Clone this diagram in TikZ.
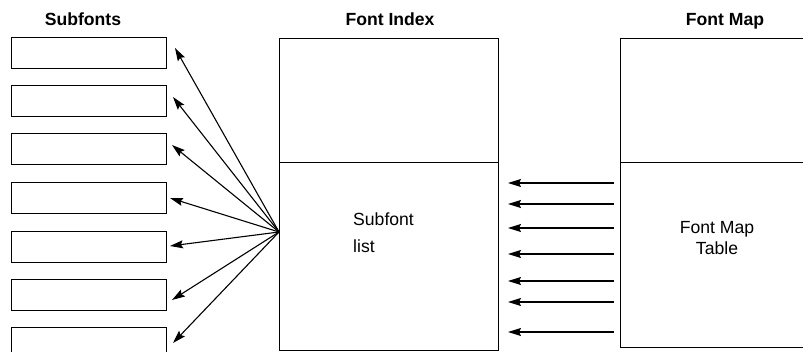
\documentclass[tikz,border=0pt]{standalone}
\usepackage{fontspec}
\setmainfont{Liberation Sans}
\usetikzlibrary{arrows.meta}
\begin{document}
\begin{tikzpicture}[x=1pt,y=-1pt,
  box/.style={draw, line width=1.2pt, rectangle, inner sep=0pt, anchor=north west},
  subbox/.style={box, minimum width=155pt, minimum height=31pt},
  title/.style={font=\fontsize{17.6}{20}\selectfont\bfseries, anchor=base, inner sep=0pt},
  ptr/.style={line width=1.1pt, -{Stealth[length=13pt,width=8pt,inset=2pt]}}
]
\useasboundingbox (0,0) rectangle (803,352);
\clip (0,0) rectangle (803,352);

% column titles
\node[title] (tsub)  at (83,26)  {Subfonts};
\node[title] (tidx)  at (390,26) {Font Index};
\node[title] (tmap)  at (725,26) {Font Map};

% subfont boxes
\foreach \i/\y in {1/37, 2/85, 3/133, 4/182, 5/231, 6/279, 7/327}
  \node[subbox] (sub\i) at (11,\y) {};

% font index: header part and subfont list part
\node[box, minimum width=219pt, minimum height=124pt] (idxtop) at (279,38) {};
\node[box, minimum width=219pt, minimum height=188pt] (idxbot) at (279,162) {};
\node[font=\fontsize{17.6}{27}\selectfont, align=left, anchor=north west, inner sep=0pt]
  (sublist) at (353,213) {Subfont\\list};

% font map: header part and map table part (runs off the right edge)
\node[box, minimum width=200pt, minimum height=124pt] (maptop) at (620,38) {};
\node[box, minimum width=200pt, minimum height=185pt] (mapbot) at (620,162) {};
\node[font=\fontsize{17.6}{21.5}\selectfont, align=center, anchor=north, inner sep=0pt]
  (maptab) at (717,221) {Font Map\\Table};

% fan of pointers from the subfont list to each subfont
\coordinate (fan) at (279,232);
\foreach \i/\x/\y in {1/175/48, 2/173/97, 3/172/145, 4/170/198, 5/170/246, 6/172/300, 7/173/343} {
  \coordinate (tip\i) at (\x,\y);
  \draw[ptr] (fan) -- (tip\i);
}

% references from the font map table into the subfont list
\foreach \i/\y in {1/183, 2/204, 3/228, 4/254, 5/281, 6/302, 7/332} {
  \coordinate (src\i) at (614,\y);
  \coordinate (dst\i) at (508,\y);
  \draw[ptr] (src\i) -- (dst\i);
}
\end{tikzpicture}
\end{document}
